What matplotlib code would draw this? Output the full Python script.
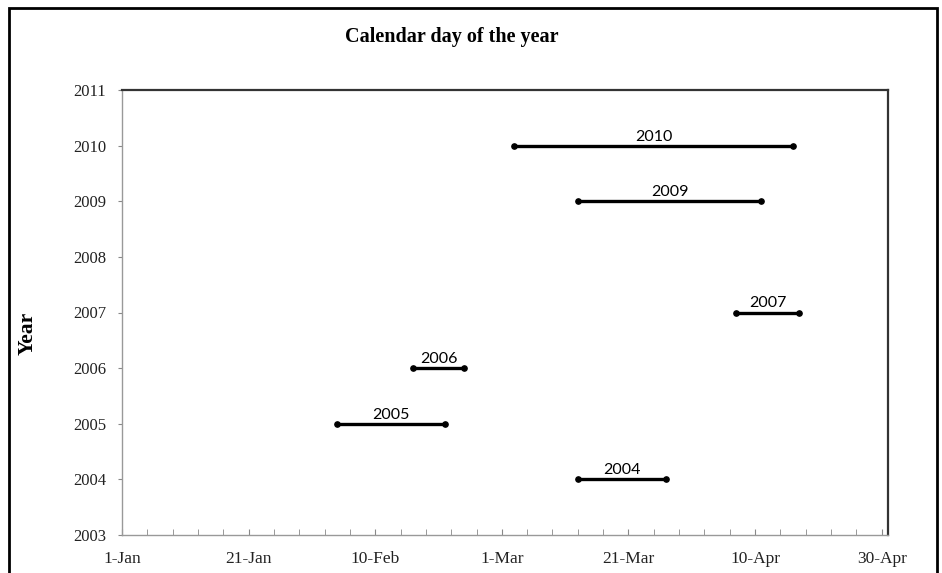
import matplotlib.pyplot as plt
import matplotlib.dates as mdates
import pandas as pd
from matplotlib.patches import Rectangle
from matplotlib.ticker import FixedLocator

# periods per year (day-month, plotted on one leap-year calendar)
years = [2010, 2009, 2007, 2006, 2005, 2004]
start_days = ["3-Mar", "13-Mar", "7-Apr", "16-Feb", "4-Feb", "13-Mar"]
end_days = ["16-Apr", "11-Apr", "17-Apr", "24-Feb", "21-Feb", "27-Mar"]
tick_days = ["1-Jan", "21-Jan", "10-Feb", "1-Mar", "21-Mar", "10-Apr", "30-Apr"]
year_ticks = list(range(2003, 2012))

BASE_YEAR = 2008
SERIF = "Liberation Serif"


def to_num(day):
    return mdates.date2num(pd.to_datetime(f"{day}-{BASE_YEAR}", format="%d-%b-%Y"))


fig = plt.figure(figsize=(9.42, 5.73), dpi=100)
ax = fig.add_axes([122 / 942, 1 - 535 / 573, 766 / 942, 445 / 573])

for yr, s, e in zip(years, start_days, end_days):
    x0, x1 = to_num(s), to_num(e)
    ax.plot([x0, x1], [yr, yr], color="black", lw=2.4, marker="o", ms=3.8,
            solid_capstyle="butt")
    ax.annotate(str(yr), ((x0 + x1) / 2, yr), xytext=(0, 1.5),
                textcoords="offset points", ha="center", va="bottom",
                fontsize=11.5, family="Lato")

ax.set_xlim(to_num("1-Jan"), to_num("1-May"))
ax.set_ylim(2003, 2011)

ax.xaxis.set_major_locator(FixedLocator([to_num(d) for d in tick_days]))
ax.set_xticklabels(tick_days)
minor = pd.date_range(f"{BASE_YEAR}-01-01", f"{BASE_YEAR}-05-01", freq="4D")
ax.xaxis.set_minor_locator(FixedLocator(mdates.date2num(minor)))
ax.set_yticks(year_ticks)

ax.tick_params(axis="x", which="both", direction="in", length=4, color="#888888",
               pad=11.5, labelsize=12.5)
ax.tick_params(axis="y", direction="out", length=3, color="#888888", pad=8.5,
               labelsize=12)
for lab in ax.get_xticklabels() + ax.get_yticklabels():
    lab.set_family(SERIF)
    lab.set_color("#222222")

for side in ["top", "right"]:
    ax.spines[side].set_color("#333333")
    ax.spines[side].set_linewidth(1.6)
for side in ["left", "bottom"]:
    ax.spines[side].set_color("#999999")
    ax.spines[side].set_linewidth(1.0)

fig.text(452 / 942, 1 - 37 / 573, "Calendar day of the year", ha="center",
         va="center", fontsize=14.5, fontweight="bold", family=SERIF)
fig.text(28 / 942, 1 - 333 / 573, "Year", ha="center", va="center", rotation=90,
         fontsize=15.5, fontweight="bold", family=SERIF)

# outer frame of the original figure (bottom edge cut off)
fig.patches.append(Rectangle((9 / 942, -0.05), 928 / 942, 1.05 - 8 / 573,
                             transform=fig.transFigure, fill=False,
                             edgecolor="black", lw=2))

fig.savefig("out.png", dpi=100)
